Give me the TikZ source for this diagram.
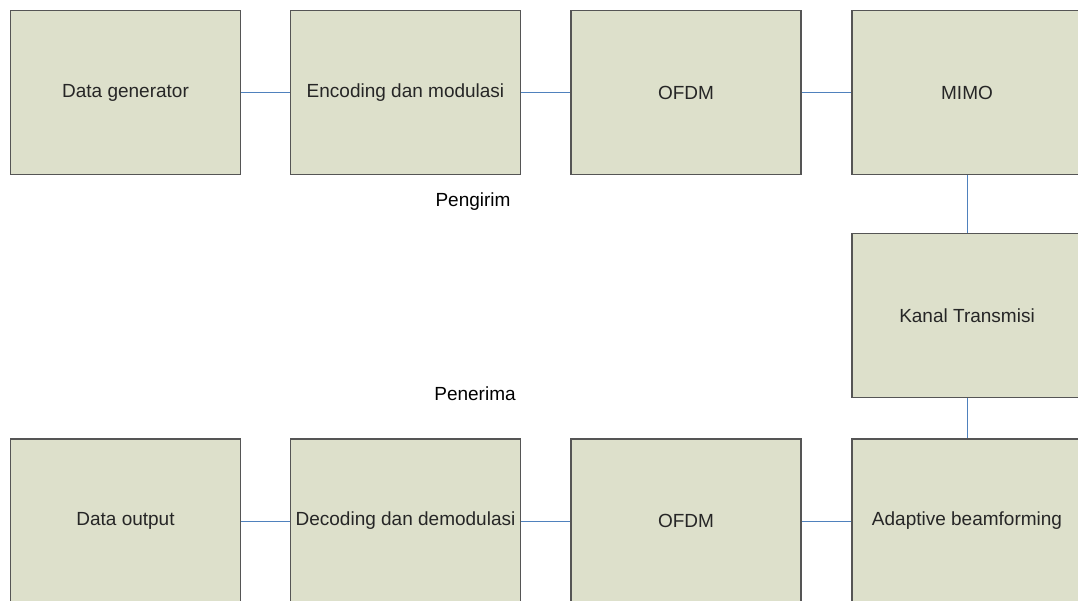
\documentclass[tikz,border=0pt]{standalone}
\usepackage{fontspec}
\setmainfont{Liberation Sans}
\usepackage{tikz}
\usetikzlibrary{positioning}

\definecolor{boxfill}{RGB}{221,224,203}
\definecolor{boxline}{RGB}{85,85,85}
\definecolor{linkblue}{RGB}{79,129,189}

\begin{document}
\begin{tikzpicture}[
    x=1pt, y=-1pt,
    font=\fontsize{19}{22}\selectfont,
    block/.style={rectangle, minimum width=230pt, minimum height=164pt, text centered, draw=boxline, line width=1.2pt, fill=boxfill, text=black!85},
    link/.style={draw=linkblue, line width=0.9pt}
]
\useasboundingbox (0,0) rectangle (1078,601);
\clip (0,0) rectangle (1078,601);

% pengirim
\node (gen) [block] at (125.5,92.5) {Data generator};
\node (enc) [block, right=48.8pt of gen] {Encoding dan modulasi};
\node (ofdmtx) [block, right=49.3pt of enc] {OFDM};
\node (mimo) [block, right=49.8pt of ofdmtx] {MIMO};

% kanal
\node (kanal) [block, below=57.8pt of mimo] {Kanal Transmisi};

% penerima
\node (beam) [block, below=40.3pt of kanal] {Adaptive beamforming};
\node (ofdmrx) [block, left=49.8pt of beam] {OFDM};
\node (dec) [block, left=49.3pt of ofdmrx] {Decoding dan demodulasi};
\node (out) [block, left=48.8pt of dec] {Data output};

\node (tx) at (473,202) {Pengirim};
\node (rx) at (475,394) {Penerima};

\draw [link] (gen) -- (enc);
\draw [link] (enc) -- (ofdmtx);
\draw [link] (ofdmtx) -- (mimo);
\draw [link] (mimo) -- (kanal);
\draw [link] (kanal) -- (beam);
\draw [link] (beam) -- (ofdmrx);
\draw [link] (ofdmrx) -- (dec);
\draw [link] (dec) -- (out);

\end{tikzpicture}
\end{document}
